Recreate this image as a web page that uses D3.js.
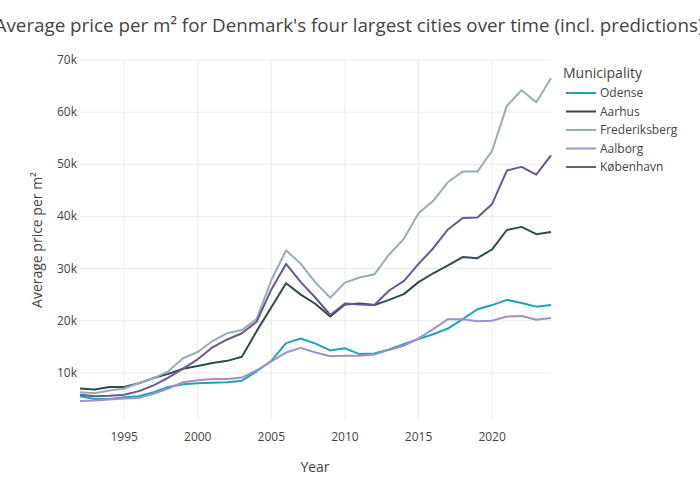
<!DOCTYPE html>
<html><head><meta charset="utf-8">
<script src="https://cdn.jsdelivr.net/npm/d3@7"></script>
<style>body{margin:0;background:#fff}text{font-family:"Open Sans",sans-serif}</style>
</head><body>
<svg id="chart" width="700" height="500"></svg>
<script>
const years = d3.range(1992, 2025);
const odense = [5.5,5.0,5.0,5.3,5.5,6.3,7.3,7.8,8.0,8.1,8.2,8.5,10.3,12.3,15.7,16.6,15.6,14.3,14.7,13.6,13.7,14.5,15.5,16.5,17.4,18.5,20.3,22.2,23.0,24.0,23.4,22.7,23.0];
const aarhus = [7.0,6.8,7.3,7.3,8.0,9.0,9.8,10.8,11.3,11.9,12.3,13.1,18.0,22.6,27.2,25.0,23.2,20.8,23.1,23.3,23.0,24.0,25.1,27.4,29.1,30.6,32.2,32.0,33.7,37.4,38.0,36.6,37.0];
const frederiksberg = [6.3,6.1,6.6,7.0,8.0,9.0,10.3,12.8,14.0,16.1,17.6,18.2,20.3,27.8,33.5,30.9,27.3,24.4,27.3,28.3,28.9,32.7,35.7,40.6,43.0,46.6,48.6,48.6,52.6,61.2,64.2,61.9,66.5];
const aalborg = [4.6,4.7,4.9,5.1,5.2,6.0,7.0,8.2,8.6,8.8,8.8,9.1,10.5,12.2,13.9,14.8,13.9,13.2,13.3,13.3,13.5,14.4,15.2,16.6,18.4,20.3,20.3,19.9,20.0,20.8,20.9,20.2,20.5];
const kobenhavn = [5.8,5.5,5.6,5.8,6.5,7.6,9.1,10.8,12.6,14.9,16.4,17.6,19.8,26.0,30.9,27.4,24.4,21.1,23.3,23.1,23.0,25.8,27.6,30.9,33.9,37.5,39.7,39.8,42.4,48.8,49.5,48.0,51.7];
const seriesNames = ["Odense","Aarhus","Frederiksberg","Aalborg","København"];
const seriesValues = [odense, aarhus, frederiksberg, aalborg, kobenhavn];
const colors = ["#1ca4b8","#2e4b4f","#96aeb3","#a290c9","#6c5690"];
const xTicks = [1995,2000,2005,2010,2015,2020];
const yTicks = [10,20,30,40,50,60,70];

const svg = d3.select("#chart");
const x = d3.scaleLinear().domain([1992,2024]).range([80,551]);
const y = d3.scaleLinear().domain([0,70]).range([425,60]);
const yMin = 1.0;

const grid = svg.append("g").attr("stroke","#ebebeb").attr("stroke-width",1);
xTicks.forEach(t => grid.append("line").attr("x1",x(t)).attr("x2",x(t)).attr("y1",y(70)).attr("y2",y(yMin)));
yTicks.forEach(t => grid.append("line").attr("x1",80).attr("x2",551).attr("y1",y(t)).attr("y2",y(t)));

const line = d3.line().x((d,i)=>x(years[i])).y(d=>y(d));
seriesValues.forEach((vals,k)=>{
  svg.append("path").datum(vals).attr("d",line).attr("fill","none")
    .attr("stroke",colors[k]).attr("stroke-width",2).attr("stroke-linejoin","round");
});

xTicks.forEach(t => svg.append("text").attr("x",x(t)).attr("y",441).attr("text-anchor","middle")
  .attr("font-size",12).attr("fill","#444").text(t));
yTicks.forEach(t => svg.append("text").attr("x",77).attr("y",y(t)+4).attr("text-anchor","end")
  .attr("font-size",12).attr("fill","#444").text(t+"k"));

svg.append("text").attr("x",315).attr("y",472).attr("text-anchor","middle").attr("font-size",14).attr("fill","#444").text("Year");
svg.append("text").attr("transform","translate(42,240) rotate(-90)").attr("text-anchor","middle")
  .attr("font-size",14).attr("fill","#444").text("Average price per m²");
svg.append("text").attr("x",349).attr("y",32).attr("text-anchor","middle").attr("font-size",18.8).attr("fill","#444")
  .text("Average price per m² for Denmark's four largest cities over time (incl. predictions)");

const lg = svg.append("g");
lg.append("text").attr("x",563).attr("y",78).attr("font-size",14).attr("fill","#444").text("Municipality");
seriesNames.forEach((n,k)=>{
  const yy = 93 + k*18.5;
  lg.append("line").attr("x1",566).attr("x2",596).attr("y1",yy).attr("y2",yy).attr("stroke",colors[k]).attr("stroke-width",2);
  lg.append("text").attr("x",600).attr("y",yy+4).attr("font-size",12).attr("fill","#444").text(n);
});
</script>
</body></html>
